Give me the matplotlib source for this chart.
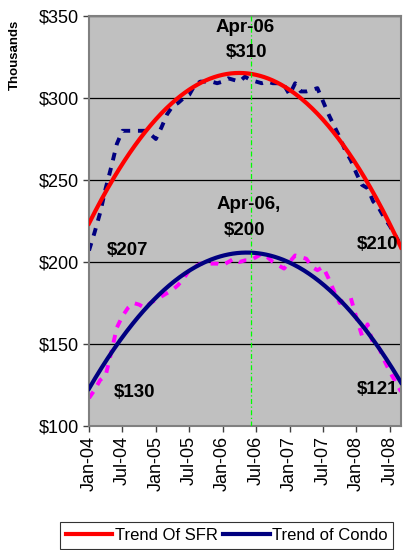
import numpy as np
import matplotlib.pyplot as plt

plt.rcParams['font.family'] = ['Liberation Sans', 'DejaVu Sans']

# monthly median prices (thousands), Jan-04 .. Sep-08
sfr = [207, 218, 230, 245, 258, 272, 280, 280, 280, 280, 280, 278, 275, 282, 290,
       295, 297, 300, 302, 308, 310, 310, 310, 309, 310, 312, 311, 310, 313, 311,
       310, 309, 310, 309, 309, 308, 302, 309, 304, 304, 305, 306, 298, 290, 283,
       276, 268, 262, 254, 247, 245, 237, 233, 227, 222, 216, 210]
condo = [117, 122, 128, 131, 145, 160, 167, 172, 175, 174, 172, 175, 177, 179, 181,
         183, 186, 190, 195, 197, 199, 199, 199, 199, 198, 200, 202, 200, 201, 201,
         203, 205, 203, 200, 198, 196, 200, 204, 203, 202, 197, 195, 197, 190, 182,
         175, 177, 178, 166, 155, 162, 150, 148, 140, 133, 127, 121]

tick_labels = ["Jan-04", "Jul-04", "Jan-05", "Jul-05", "Jan-06", "Jul-06",
               "Jan-07", "Jul-07", "Jan-08", "Jul-08"]
y_ticks = [100, 150, 200, 250, 300, 350]
peak_month = 27     # Apr-06
marker_month = 29

months = np.arange(len(sfr))

# 2nd order polynomial trend lines
t = np.linspace(0, months[-1], 300)
sfr_trend = np.polyval(np.polyfit(months, sfr, 2), t)
condo_trend = np.polyval(np.polyfit(months, condo, 2), t)

fig = plt.figure(figsize=(4.03, 5.5), dpi=100)
ax = fig.add_axes([89/403, 1 - 426/550, 312/403, 410/550])
ax.set_facecolor('#C0C0C0')

ax.plot(months, sfr, color='#000080', lw=2.8, dashes=(2, 2), zorder=2)
ax.plot(months, condo, color='#FF00FF', lw=2.8, dashes=(2, 2), zorder=2)
l1, = ax.plot(t, sfr_trend, color='#FF0000', lw=3, zorder=3, label='Trend Of SFR')
l2, = ax.plot(t, condo_trend, color='#000080', lw=3, zorder=3, label='Trend of Condo')

ax.axvline(marker_month, color='#00FF00', lw=0.9, dashes=(4, 2, 1, 2), zorder=4)

ax.set_xlim(0, months[-1])
ax.set_ylim(100, 350)
ax.set_yticks(y_ticks)
ax.set_yticklabels([f"${v}" for v in y_ticks], fontsize=13)
ax.set_xticks(np.arange(0, 6 * len(tick_labels), 6))
ax.set_xticklabels(tick_labels, rotation=90, fontsize=13)
ax.tick_params(direction='out', length=4, width=1, color='#404040', pad=3)
ax.yaxis.grid(True, color='black', lw=0.9)
ax.set_axisbelow(True)
for side in ['left', 'bottom', 'top', 'right']:
    ax.spines[side].set_color('#808080')
    ax.spines[side].set_linewidth(1.5)

fig.text(15/403, 1 - 55/550, "Thousands", rotation=90, fontsize=9.5,
         fontweight='bold', ha='center', va='center')

# value callouts
bold = dict(fontsize=13.5, fontweight='bold', ha='center', va='center', zorder=5)
ax.text(28.0, 343, "Apr-06", **bold)
ax.text(28.2, 328, f"${sfr[peak_month]}", **bold)
ax.text(28.6, 235, "Apr-06,", **bold)
ax.text(28.0, 219.5, f"${condo[peak_month]}", **bold)
ax.text(7.0, 207, f"${sfr[0]}", **bold)
ax.text(8.2, 120.5, "$130", **bold)
ax.text(51.8, 210.5, f"${sfr[-1]}", **bold)
ax.text(51.8, 122, f"${condo[-1]}", **bold)

leg = fig.legend(handles=[l1, l2], loc='upper left',
                 bbox_to_anchor=(60/403, 1 - 522/550),
                 ncol=2, fontsize=12, frameon=True, fancybox=False,
                 handlelength=2.8, handletextpad=0.15, columnspacing=0.3,
                 borderpad=0.35, borderaxespad=0)
leg.get_frame().set_edgecolor('black')
leg.get_frame().set_linewidth(0.8)

fig.savefig('out.png', dpi=100)
